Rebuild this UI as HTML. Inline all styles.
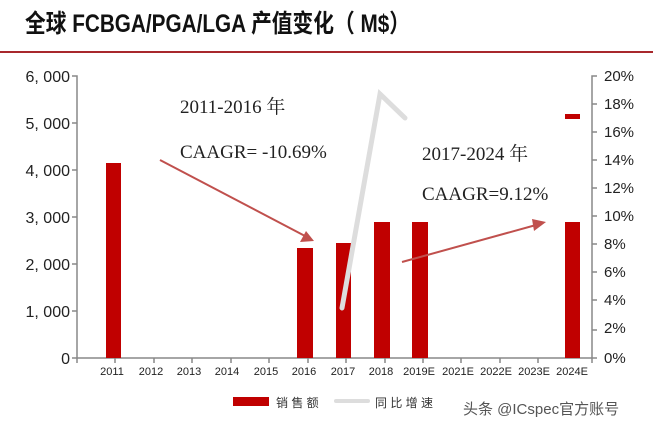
<!DOCTYPE html>
<html><head><meta charset="utf-8"><style>
body{margin:0;width:653px;height:428px;background:#fff;overflow:hidden}
</style></head><body>
<svg width="653" height="428" xmlns="http://www.w3.org/2000/svg" font-family="Liberation Sans, Noto Sans CJK SC, sans-serif">
<text x="25" y="32" font-size="25" font-weight="bold" fill="#111" textLength="385" lengthAdjust="spacingAndGlyphs">全球 FCBGA/PGA/LGA 产值变化（ M$）</text>
<rect x="0" y="51" width="653" height="2" fill="#a8282c"/>
<g fill="#222" font-size="16" text-anchor="end">
<text x="70" y="82">6, 000</text><text x="70" y="129">5, 000</text><text x="70" y="176">4, 000</text>
<text x="70" y="223">3, 000</text><text x="70" y="270">2, 000</text><text x="70" y="317">1, 000</text><text x="70" y="364">0</text>
</g>
<g fill="#222" font-size="15">
<text x="604" y="81">20%</text><text x="604" y="109">18%</text><text x="604" y="137">16%</text><text x="604" y="165">14%</text>
<text x="604" y="193">12%</text><text x="604" y="221">10%</text><text x="604" y="249">8%</text><text x="604" y="277">6%</text>
<text x="604" y="305">4%</text><text x="604" y="333">2%</text><text x="604" y="363">0%</text>
</g>
<g stroke="#888" stroke-width="1.5" fill="none">
<path d="M72 76H77V358H72M77 358H592M597 76H592V358H597"/>
<path d="M72 311H77M72 264H77M72 217H77M72 170H77M72 123H77"/>
<path d="M592 104H597M592 132H597M592 160H597M592 188H597M592 216H597M592 244H597M592 272H597M592 300H597M592 330H597"/>
<path d="M77 358v5M115 358v5M154 358v5M192 358v5M231 358v5M269 358v5M308 358v5M346 358v5M385 358v5M423 358v5M461 358v5M500 358v5M538 358v5M592 358v5"/>
</g>
<g fill="#c00000">
<rect x="106" y="163" width="15" height="195"/>
<rect x="297" y="248" width="16" height="110"/>
<rect x="336" y="243" width="15" height="115"/>
<rect x="374" y="222" width="16" height="136"/>
<rect x="412" y="222" width="16" height="136"/>
<rect x="565" y="222" width="15" height="136"/>
<rect x="565" y="114" width="15" height="5"/>
</g>
<path d="M342 308L380 94L405 118" stroke="#ddd" stroke-width="5" fill="none" stroke-linecap="round"/>
<g fill="#222" font-size="11" text-anchor="middle">
<text x="112" y="375">2011</text><text x="151" y="375">2012</text><text x="189" y="375">2013</text><text x="227" y="375">2014</text>
<text x="266" y="375">2015</text><text x="304" y="375">2016</text><text x="343" y="375">2017</text><text x="381" y="375">2018</text>
<text x="419" y="375">2019E</text><text x="458" y="375">2021E</text><text x="496" y="375">2022E</text><text x="534" y="375">2023E</text><text x="572" y="375">2024E</text>
</g>
<g font-family="Liberation Serif, Noto Serif CJK SC, serif" font-size="19" fill="#222">
<text x="180" y="113">2011-2016 年</text>
<text x="180" y="158">CAAGR= -10.69%</text>
<text x="422" y="160">2017-2024 年</text>
<text x="422" y="200">CAAGR=9.12%</text>
</g>
<g stroke="#c0504d" stroke-width="2" fill="#c0504d">
<line x1="160" y1="160" x2="305" y2="236"/>
<polygon points="314,241 300,242 306,231" stroke="none"/>
<line x1="402" y1="262" x2="536" y2="225"/>
<polygon points="546,222 534,231 532,219" stroke="none"/>
</g>
<rect x="233" y="397" width="36" height="9" fill="#c00000"/>
<text x="276" y="407" font-size="12" fill="#333">销 售 额</text>
<rect x="334" y="399" width="36" height="4" fill="#ddd" rx="2"/>
<text x="375" y="407" font-size="12" fill="#333">同 比 增 速</text>
<text x="463" y="414" font-size="15" fill="#555">头条 @ICspec官方账号</text>
</svg>
</body></html>
